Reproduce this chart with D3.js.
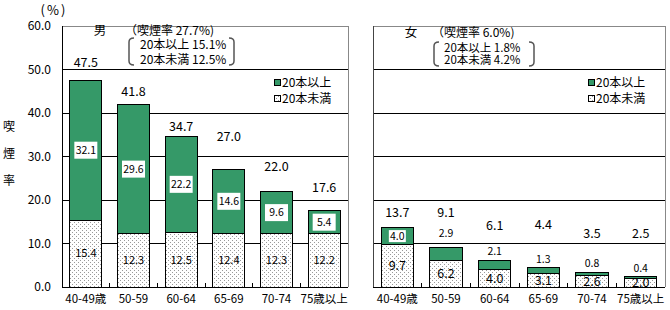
<!DOCTYPE html>
<html><head><meta charset="utf-8">
<script src="https://cdn.jsdelivr.net/npm/d3@7/dist/d3.min.js"></script>
<style>body{margin:0;background:#fff}svg{display:block}text{font-family:"Noto Sans CJK JP","DejaVu Sans",sans-serif;fill:#000}</style>
</head><body><svg id="c" width="670" height="310"></svg>
<script>
// ---- data ----
const categoriesMale = ["40-49歳", "50-59", "60-64", "65-69", "70-74", "75歳以上"];
const categoriesFemale = ["40-49歳", "50-59", "60-64", "65-69", "70-74", "75歳以上"];
const maleHeavy = [32.1, 29.6, 22.2, 14.6, 9.6, 5.4];
const maleLight = [15.4, 12.3, 12.5, 12.4, 12.3, 12.2];
const maleTotal = [47.5, 41.8, 34.7, 27.0, 22.0, 17.6];
const femaleHeavy = [4.0, 2.9, 2.1, 1.3, 0.8, 0.4];
const femaleLight = [9.7, 6.2, 4.0, 3.1, 2.6, 2.0];
const femaleTotal = [13.7, 9.1, 6.1, 4.4, 3.5, 2.5];
const yTicks = [0, 10, 20, 30, 40, 50, 60];
const seriesNames = ["20本以上", "20本未満"];
const maleHeader = ["男", "（喫煙率 27.7%)", "20本以上 15.1%", "20本未満 12.5%"];
const femaleHeader = ["女", "（喫煙率 6.0%)", "20本以上 1.8%", "20本未満 4.2%"];
const yAxisTitle = ["喫", "煙", "率"];
const unitLabel = "(%)";

// ---- layout ----
const svg = d3.select("#c");
const GREEN = "#359968";
const defs = svg.append("defs");
const pat = defs.append("pattern").attr("id", "dots").attr("width", 4).attr("height", 4)
  .attr("patternUnits", "userSpaceOnUse");
pat.append("rect").attr("width", 4).attr("height", 4).attr("fill", "#fff");
pat.append("rect").attr("x", 0).attr("y", 0).attr("width", 1).attr("height", 1).attr("fill", "#999");
pat.append("rect").attr("x", 2).attr("y", 2).attr("width", 1).attr("height", 1).attr("fill", "#999");

const y = d3.scaleLinear().domain([0, 60]).range([287, 26]);

function panel(o) {
  const g = svg.append("g");
  const x = d3.scaleBand().domain(o.cats).range([o.x0, o.x1]).paddingInner(0.33).paddingOuter(0.165);
  // gridlines
  g.selectAll("line.grid").data(yTicks.filter(t => t > 0 && t < 60)).join("line")
    .attr("x1", o.x0).attr("x2", o.x1).attr("y1", d => y(d)).attr("y2", d => y(d))
    .attr("stroke", "#000").attr("stroke-width", 1).attr("shape-rendering", "crispEdges");
  // frame top/right (gray)
  g.append("path").attr("d", `M${o.x0},${y(60)}H${o.x1}V${y(0)}`)
    .attr("fill", "none").attr("stroke", "#888").attr("shape-rendering", "crispEdges");
  g.append("line").attr("x1", o.x0).attr("x2", o.x0).attr("y1", y(60)).attr("y2", y(0))
    .attr("stroke", o.leftColor).attr("shape-rendering", "crispEdges");
  // bars
  const data = o.cats.map((c, i) => ({ c, i, light: o.light[i], heavy: o.heavy[i], total: o.total[i] }));
  g.selectAll("rect.light").data(data).join("rect")
    .attr("x", d => x(d.c)).attr("width", x.bandwidth())
    .attr("y", d => y(d.light)).attr("height", d => y(0) - y(d.light))
    .attr("fill", "url(#dots)").attr("stroke", "#000").attr("shape-rendering", "crispEdges");
  g.selectAll("rect.heavy").data(data).join("rect")
    .attr("x", d => x(d.c)).attr("width", x.bandwidth())
    .attr("y", d => y(d.light + d.heavy)).attr("height", d => y(d.light) - y(d.light + d.heavy))
    .attr("fill", GREEN).attr("stroke", "#000").attr("shape-rendering", "crispEdges");
  // bottom axis
  g.append("line").attr("x1", o.x0).attr("x2", o.x1).attr("y1", y(0)).attr("y2", y(0))
    .attr("stroke", "#000").attr("shape-rendering", "crispEdges");
  const step = x.step();
  g.selectAll("line.tk").data(d3.range(1, o.cats.length)).join("line")
    .attr("x1", d => o.x0 + d * step).attr("x2", d => o.x0 + d * step)
    .attr("y1", y(0)).attr("y2", y(0) - 4).attr("stroke", "#000").attr("shape-rendering", "crispEdges");
  // category labels
  g.selectAll("text.cat").data(data).join("text")
    .attr("x", d => x(d.c) + x.bandwidth() / 2).attr("y", 299).attr("dy", "0.35em")
    .attr("text-anchor", "middle").attr("font-size", 11.5).text(d => d.c);
  // light labels
  g.selectAll("text.ll").data(data).join("text")
    .attr("x", d => x(d.c) + x.bandwidth() / 2).attr("y", d => y(d.light / 2)).attr("dy", "0.35em")
    .attr("text-anchor", "middle").attr("font-size", o.lightFs).text(d => d.light.toFixed(1));
  // heavy labels
  data.forEach(d => {
    const cx = x(d.c) + x.bandwidth() / 2;
    let cy, boxed;
    if (o.heavyInside[d.i]) { cy = y(d.light + d.heavy / 2); boxed = true; }
    else { cy = y(d.light + d.heavy) - o.heavyLift[d.i]; boxed = false; }
    if (boxed) {
      g.append("rect").attr("x", cx - o.boxW / 2).attr("y", cy - o.boxH / 2)
        .attr("width", o.boxW).attr("height", o.boxH).attr("fill", "#fff");
    }
    g.append("text").attr("x", cx).attr("y", cy).attr("dy", "0.35em").attr("text-anchor", "middle")
      .attr("font-size", o.heavyFs).text(d.heavy.toFixed(1));
  });
  // total labels
  g.selectAll("text.tot").data(data).join("text")
    .attr("x", d => x(d.c) + x.bandwidth() / 2).attr("y", d => y(d.light + d.heavy) - o.totalLift[d.i])
    .attr("dy", "0.35em").attr("text-anchor", "middle").attr("font-size", 12.5)
    .text(d => d.total.toFixed(1));
  // legend
  const lg = g.append("g").attr("transform", `translate(${o.legX},0)`);
  [[GREEN, 83], ["url(#dots)", 99]].forEach(([f, ly], i) => {
    lg.append("rect").attr("x", 0.5).attr("y", ly - 3.5).attr("width", 6).attr("height", 6)
      .attr("fill", f).attr("stroke", "#000").attr("shape-rendering", "crispEdges");
    lg.append("text").attr("x", 8).attr("y", ly).attr("dy", "0.35em").attr("font-size", 12)
      .text(seriesNames[i]);
  });
  // header
  const h = o.header;
  g.append("text").attr("x", o.hx).attr("y", o.ry).attr("dy", "0.35em").attr("text-anchor", "middle")
    .attr("font-size", 12.5).text(h[0]);
  g.append("text").attr("x", o.rateX).attr("y", o.ry).attr("dy", "0.35em").attr("font-size", 12).text(h[1]);
  g.append("text").attr("x", o.lineX).attr("y", o.l1y).attr("dy", "0.35em").attr("font-size", o.lineFs).text(h[2]);
  g.append("text").attr("x", o.lineX).attr("y", o.l2y).attr("dy", "0.35em").attr("font-size", o.lineFs).text(h[3]);
  const b0 = o.brY0, b1 = o.brY1, bl = o.brL, br = o.brR;
  g.append("path").attr("d", `M${bl + 5},${b0}Q${bl},${b0} ${bl},${b0 + 4}V${b1 - 4}Q${bl},${b1} ${bl + 5},${b1}`)
    .attr("fill", "none").attr("stroke", "#555").attr("stroke-width", 1.5);
  g.append("path").attr("d", `M${br - 5},${b0}Q${br},${b0} ${br},${b0 + 4}V${b1 - 4}Q${br},${b1} ${br - 5},${b1}`)
    .attr("fill", "none").attr("stroke", "#555").attr("stroke-width", 1.5);
}

panel({
  cats: categoriesMale, light: maleLight, heavy: maleHeavy, total: maleTotal,
  x0: 62, x1: 348, leftColor: "#000", lightFs: 11, heavyFs: 10.5, boxW: 23, boxH: 17,
  heavyInside: [1, 1, 1, 1, 1, 1], heavyLift: [0, 0, 0, 0, 0, 0],
  totalLift: [18, 13, 9, 33, 25, 23],
  legX: 274, header: maleHeader, hx: 100, ry: 31, rateX: 125, lineX: 140, l1y: 45, l2y: 60, lineFs: 12,
  brY0: 38, brY1: 65, brL: 129, brR: 234
});
panel({
  cats: categoriesFemale, light: femaleLight, heavy: femaleHeavy, total: femaleTotal,
  x0: 373, x1: 665, leftColor: "#444", lightFs: 12.5, heavyFs: 10.5, boxW: 17, boxH: 12,
  heavyInside: [1, 0, 0, 0, 0, 0], heavyLift: [0, 14, 9, 9, 9, 8],
  totalLift: [15, 35, 35, 43, 39, 43],
  legX: 588, header: femaleHeader, hx: 411, ry: 33, rateX: 432, lineX: 444, l1y: 48, l2y: 60, lineFs: 11.5,
  brY0: 42, brY1: 66, brL: 434, brR: 534
});

// y axis ticks labels
svg.selectAll("text.ytk").data(yTicks).join("text")
  .attr("x", 51).attr("y", d => y(d)).attr("dy", "0.35em").attr("text-anchor", "end")
  .attr("font-size", 12).text(d => d.toFixed(1));
svg.selectAll("text.yt").data(yAxisTitle).join("text")
  .attr("x", 9).attr("y", (d, i) => 127 + i * 27).attr("dy", "0.35em").attr("text-anchor", "middle")
  .attr("font-size", 12).text(d => d);
svg.append("text").attr("x", 54).attr("y", 10).attr("dy", "0.35em").attr("text-anchor", "middle")
  .attr("font-size", 13).attr("letter-spacing", 2).text(unitLabel);
</script></body></html>
